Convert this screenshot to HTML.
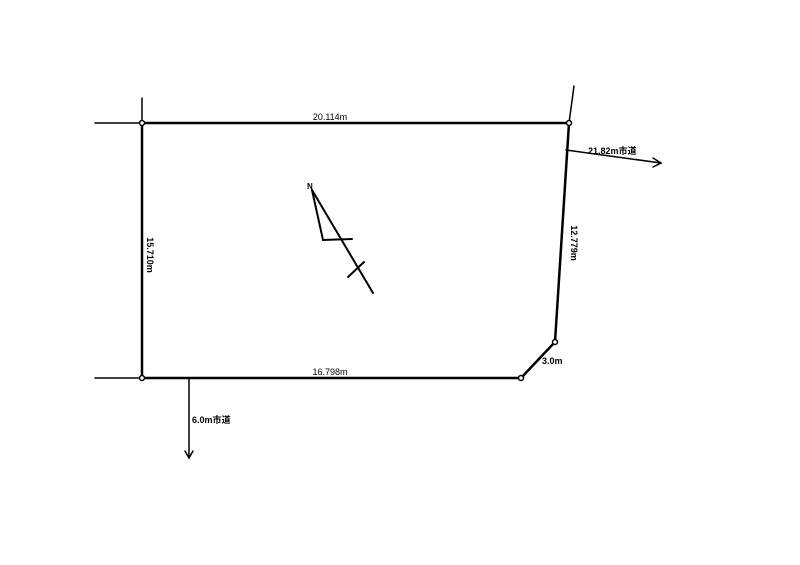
<!DOCTYPE html>
<html><head><meta charset="utf-8"><style>body{margin:0;background:#fff}</style></head><body>
<svg width="800" height="565" xmlns="http://www.w3.org/2000/svg" style="display:block">
<g stroke="#000" fill="none" stroke-linecap="round">
<line x1="95" y1="123" x2="142" y2="123" stroke-width="1.5"/>
<line x1="95" y1="378" x2="142" y2="378" stroke-width="1.5"/>
<line x1="142" y1="98" x2="142" y2="123" stroke-width="1.5"/>
<line x1="142" y1="123" x2="569" y2="123" stroke-width="2.5"/>
<line x1="142" y1="378" x2="521" y2="378" stroke-width="2.5"/>
<line x1="142" y1="123" x2="142" y2="378" stroke-width="2.5"/>
<line x1="574" y1="86" x2="569" y2="123" stroke-width="1.5"/>
<polyline points="569,123 555,342 521,378" stroke-width="2.5"/>
<line x1="189" y1="378" x2="189" y2="458" stroke-width="1.5"/>
<polyline points="185,451 189,458 193,451" stroke-width="1.5"/>
<line x1="566" y1="150" x2="661" y2="163" stroke-width="1.5"/>
<polyline points="653,158 661,163 653,167" stroke-width="1.5"/>
<line x1="312" y1="190" x2="373" y2="293" stroke-width="2"/>
<polyline points="312,190 323,240 352,239" stroke-width="2"/>
<line x1="348" y1="277" x2="364" y2="262" stroke-width="2"/>
</g>
<g fill="#fff" stroke="#000" stroke-width="1.5">
<circle cx="142" cy="123" r="2.5"/><circle cx="569" cy="123" r="2.5"/>
<circle cx="142" cy="378" r="2.5"/><circle cx="521" cy="378" r="2.5"/>
<circle cx="555" cy="342" r="2.5"/>
</g>
<g font-family="Liberation Sans, Noto Sans CJK JP, sans-serif" font-size="9" font-weight="bold" fill="#000">
<text x="330" y="120" text-anchor="middle" font-weight="normal">20.114m</text>
<text x="330" y="375" text-anchor="middle" font-weight="normal">16.798m</text>
<text transform="translate(147,255) rotate(90)" text-anchor="middle">15.710m</text>
<text transform="translate(571,243) rotate(90)" text-anchor="middle">12.779m</text>
<text x="542" y="364">3.0m</text>
<text x="588" y="154">21.82m市道</text>
<text x="192" y="423">6.0m市道</text>
<text x="307" y="189" font-size="8">N</text>
</g>
</svg>
</body></html>
